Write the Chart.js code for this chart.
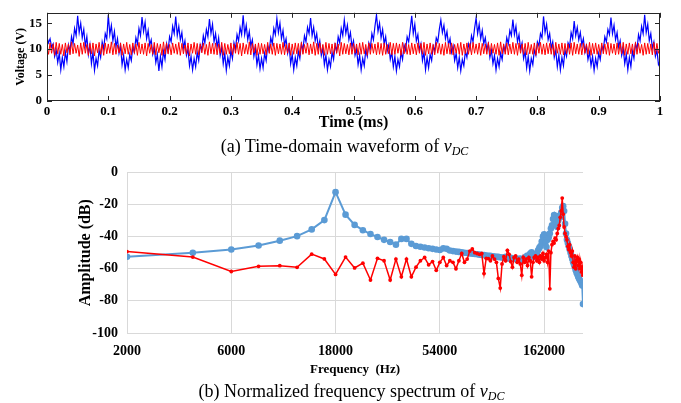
<!DOCTYPE html>
<html>
<head>
<meta charset="utf-8">
<script src="https://cdn.jsdelivr.net/npm/chart.js@4.4.0/dist/chart.umd.min.js"></script>
<style>
  body { margin: 0; background: #fff; width: 681px; height: 403px; position: relative; overflow: hidden; font-family: "Liberation Serif", "Times New Roman", serif; }
  #wrapTop { position: absolute; left: 0; top: 0; width: 681px; height: 135px; }
  #wrapBot { position: absolute; left: 0; top: 155px; width: 681px; height: 230px; }
  .cap { position: absolute; width: 681px; text-align: center; font-size: 18px; color: #000; z-index: 2; white-space: nowrap; }
  .cap sub { font-size: 12px; vertical-align: -3px; }
</style>
</head>
<body>
<div id="wrapTop"><canvas id="timeChart"></canvas></div>
<div class="cap" style="left:4px; top:136px;">(a) Time-domain waveform of <i>v</i><sub><i>DC</i></sub></div>
<div id="wrapBot"><canvas id="specChart"></canvas></div>
<div class="cap" style="left:11px; top:381px;">(b) Normalized frequency spectrum of <i>v</i><sub><i>DC</i></sub></div>

<script>
// ---- (a) time-domain waveform, sampled every 0.0025 ms ----
const sampleStep = 0.0025; // ms
const timeTicks = [0, 0.1, 0.2, 0.3, 0.4, 0.5, 0.6, 0.7, 0.8, 0.9, 1];
const voltTicks = [0, 5, 10, 15];

const blueVolt = [
  12.3, 11.2, 12.0, 10.4, 11.0, 8.6, 9.8, 7.4, 9.2, 6.0, 8.4, 6.6, 9.4, 7.6, 10.8, 9.6, 12.4, 11.0, 14.0, 12.6,
  16.4, 13.2, 15.0, 12.2, 13.8, 10.6, 12.4, 9.0, 10.8, 7.2, 9.4, 5.9, 8.2, 6.8, 9.8, 8.4, 11.4, 10.0, 13.0, 12.0,
  16.6, 12.8, 14.6, 11.6, 13.4, 10.4, 12.0, 9.2, 10.6, 7.0, 8.8, 6.0, 8.0, 6.4, 9.0, 7.8, 10.4, 9.4, 12.2, 11.0, 14.0, 12.6,
  16.2, 13.4, 15.2, 12.0, 13.6, 10.8, 11.8, 9.0, 10.2, 7.4, 9.0, 5.8, 8.6, 6.6, 9.6, 8.0, 11.0, 9.6, 12.4, 11.4, 14.4, 13.0,
  16.3, 12.6, 14.4, 11.8, 13.2, 10.2, 11.6, 8.8, 10.0, 6.8, 8.6, 6.0, 8.2, 6.6, 9.4, 7.8, 10.8, 9.8, 12.6, 11.2, 13.8, 12.4,
  15.8, 13.0, 14.8, 11.4, 13.0, 10.4, 12.2, 8.8, 10.4, 7.2, 9.2, 5.9, 8.4, 6.8, 9.8, 8.2, 11.2, 10.0, 12.8, 11.6, 14.2, 12.8,
  16.5, 12.8, 14.6, 11.8, 13.4, 10.6, 11.8, 8.6, 10.2, 7.0, 8.8, 6.2, 8.2, 6.4, 9.2, 7.8, 10.6, 9.6, 12.2, 11.0, 14.0, 12.8,
  15.9, 13.2, 15.0, 12.0, 13.6, 10.8, 12.0, 9.2, 10.6, 7.2, 9.0, 6.0, 8.4, 6.8, 9.6, 8.2, 11.0, 9.8, 12.6, 11.4, 14.2, 13.0,
  16.0, 12.6, 14.2, 11.6, 13.0, 10.2, 11.6, 8.8, 10.2, 7.0, 8.8, 6.0, 8.0, 6.6, 9.4, 8.0, 10.8, 9.6, 12.4, 11.2, 14.0, 12.6,
  15.6, 13.0, 14.6, 11.8, 13.2, 10.4, 11.6, 8.8, 10.0, 7.0, 8.8, 6.0, 8.2, 6.8, 9.8, 8.6, 11.2, 10.2, 13.0, 11.8, 14.4,
  16.6, 13.4, 15.0, 12.2, 13.8, 11.0, 12.4, 9.6, 10.8, 8.0, 9.4, 6.6, 8.6, 5.8, 8.0, 6.6, 9.4, 8.0, 10.8, 9.8, 12.4, 11.4, 13.8,
  16.4, 13.0, 14.8, 11.6, 12.8, 9.8, 11.0, 7.8, 9.4, 6.0, 8.4, 6.4, 9.0, 7.8, 10.6, 9.6, 12.2, 11.4, 13.8,
  15.6, 13.2, 14.6, 12.0, 13.4, 10.8, 12.0, 9.4, 10.6, 7.8, 9.2, 6.4, 8.4, 5.8, 8.0, 6.8, 9.6, 8.4, 11.0, 10.0, 12.6, 11.4, 14.0,
  16.0, 13.0, 14.8, 12.0, 13.6, 11.0, 12.2, 9.8, 11.0, 8.4, 9.8, 7.2, 8.8, 6.0, 8.2, 6.6, 9.2, 8.0, 10.6, 9.6, 12.2, 11.0, 13.6, 12.6,
  15.7, 12.8, 14.4, 11.4, 12.8, 10.0, 11.2, 8.2, 9.6, 6.4, 8.6, 5.8, 8.2, 7.0, 9.8, 8.8, 11.4, 10.6, 13.0, 12.2,
  16.3, 13.2, 14.8, 11.8, 13.0, 10.2, 11.4, 8.4, 9.8, 6.6, 8.8, 6.0, 8.4, 6.8, 9.8, 8.6, 11.2, 10.4, 13.2, 12.0,
  15.4, 12.6, 14.2, 11.8, 13.2, 10.8, 12.0, 9.4, 10.6, 8.0, 9.4, 6.8, 8.6, 5.9, 8.2, 6.6, 9.2, 8.0, 10.6, 9.8, 12.4, 11.4, 13.8, 12.8,
  16.1, 13.0, 14.6, 11.8, 13.2, 10.4, 11.6, 8.8, 10.2, 7.2, 9.0, 6.0, 8.4, 6.6, 9.6, 8.2, 11.0, 10.0, 12.8, 11.6, 14.4, 13.0,
  16.6, 13.2, 14.8, 11.6, 13.0, 10.2, 11.4, 8.6, 9.8, 7.0, 7.6
];

const redVolt = [
  10.6, 9.0, 11.2, 9.2, 11.0, 8.8, 11.3, 9.1, 11.1, 9.0, 10.9, 8.7, 11.2, 9.3, 11.0, 8.9, 11.4, 9.1, 11.1, 9.2,
  10.8, 8.6, 11.2, 9.0, 11.3, 9.2, 10.9, 8.8, 11.1, 9.1, 11.2, 8.7, 11.0, 9.3, 11.3, 9.0, 10.9, 8.8, 11.2, 9.1,
  11.0, 9.2, 11.4, 8.9, 11.1, 9.0, 10.8, 9.3, 11.2, 8.8, 11.0, 9.1, 11.3, 9.0, 10.9, 8.9, 11.2, 9.2, 11.0, 8.8,
  11.3, 9.1, 11.0, 9.0, 11.2, 8.7, 11.1, 9.2, 10.9, 9.0, 11.3, 8.9, 11.1, 9.3, 11.0, 8.8, 11.4, 9.0, 11.2, 9.1,
  10.9, 8.9, 11.2, 9.2, 11.0, 9.0, 11.3, 8.8, 11.1, 9.1, 10.8, 9.0, 11.2, 8.7, 11.0, 9.2, 11.3, 9.0, 11.1, 8.9,
  11.0, 9.3, 11.2, 9.0, 10.9, 8.8, 11.4, 9.1, 11.1, 9.0, 11.2, 8.9, 11.0, 9.2, 11.3, 8.8, 11.1, 9.0, 10.9, 9.1,
  11.2, 8.9, 11.0, 9.2, 11.3, 9.0, 11.1, 8.7, 11.2, 9.1, 10.9, 9.0, 11.4, 8.9, 11.1, 9.3, 11.0, 8.8, 11.2, 9.0,
  11.1, 9.1, 10.9, 8.9, 11.3, 9.2, 11.0, 9.0, 11.2, 8.8, 11.1, 9.1, 11.0, 9.0, 11.3, 8.9, 10.9, 9.2, 11.2, 8.8,
  11.0, 9.0, 11.2, 9.1, 11.1, 8.8, 11.3, 9.0, 10.9, 9.2, 11.2, 8.9, 11.0, 9.1, 11.4, 8.8, 11.1, 9.0, 11.2, 9.2,
  10.9, 8.8, 11.3, 9.0, 11.1, 9.1, 11.0, 8.9, 11.2, 9.2, 11.0, 8.7, 11.3, 9.0, 11.1, 9.1, 10.9, 8.9, 11.2, 9.0,
  11.1, 9.2, 11.0, 8.9, 11.2, 9.0, 11.3, 9.1, 10.9, 8.8, 11.2, 9.0, 11.1, 9.2, 11.0, 8.9, 11.3, 9.0, 11.1, 8.8,
  11.2, 9.0, 10.9, 9.1, 11.3, 8.9, 11.1, 9.0, 11.2, 9.2, 11.0, 8.8, 11.3, 9.1, 11.1, 9.0, 10.9, 8.9, 11.2, 9.1,
  11.0, 8.9, 11.2, 9.2, 11.1, 9.0, 11.3, 8.8, 11.0, 9.1, 11.2, 9.0, 10.9, 8.9, 11.3, 9.2, 11.1, 9.0, 11.0, 8.8,
  11.3, 9.1, 11.1, 9.0, 11.2, 8.9, 10.9, 9.2, 11.1, 9.0, 11.3, 8.8, 11.0, 9.1, 11.2, 9.0, 11.1, 8.9, 11.3, 9.2,
  11.0, 9.0, 11.2, 8.8, 11.1, 9.1, 11.0, 9.0, 11.3, 8.9, 11.1, 9.2, 10.9, 9.0, 11.2, 8.8, 11.4, 9.1, 11.0, 9.0,
  11.2, 8.9, 11.0, 9.1, 11.3, 9.0, 11.1, 8.8, 11.2, 9.2, 11.0, 9.0, 11.1, 8.9, 11.3, 9.1, 10.9, 9.0, 11.2, 8.8,
  11.1, 9.2, 11.3, 9.0, 11.0, 8.9, 11.2, 9.1, 11.1, 9.0, 10.9, 8.8, 11.3, 9.2, 11.0, 9.0, 11.2, 8.9, 11.1, 9.1,
  11.0, 9.0, 11.2, 8.8, 11.3, 9.1, 11.0, 9.0, 11.1, 8.9, 11.2, 9.2, 11.0, 9.0, 11.3, 8.8, 11.1, 9.1, 11.2, 9.0,
  10.9, 8.9, 11.2, 9.1, 11.0, 9.0, 11.3, 8.8, 11.1, 9.2, 11.0, 8.9, 11.2, 9.0, 11.1, 9.1, 11.3, 8.8, 11.0, 9.0,
  11.2, 9.1, 11.0, 8.9, 11.3, 9.0, 11.1, 9.2, 10.9, 8.8, 11.2, 9.0, 11.1, 9.1, 11.0, 8.9, 11.3, 9.0, 11.1, 9.2,
  10.4
];

// ---- (b) normalized spectrum, 2 kHz harmonics ----
const freqTicks = [2000, 6000, 18000, 54000, 162000];
const ampTicks = [0, -20, -40, -60, -80, -100];

const freqHz = [
  2000, 4000, 6000, 8000, 10000, 12000, 14000, 16000, 18000, 20000,
  22000, 24000, 26000, 28000, 30000, 32000, 34000, 36000, 38000, 40000,
  42000, 44000, 46000, 48000, 50000, 52000, 54000, 56000, 58000, 60000,
  62000, 64000, 66000, 68000, 70000, 72000, 74000, 76000, 78000, 80000,
  82000, 84000, 86000, 88000, 90000, 92000, 94000, 96000, 98000, 100000,
  102000, 104000, 106000, 108000, 110000, 112000, 114000, 116000, 118000, 120000,
  122000, 124000, 126000, 128000, 130000, 132000, 134000, 136000, 138000, 140000,
  142000, 144000, 146000, 148000, 150000, 152000, 154000, 156000, 158000, 160000,
  162000, 164000, 166000, 168000, 170000, 172000, 174000, 176000, 178000, 180000,
  182000, 184000, 186000, 188000, 190000, 192000, 194000, 196000, 198000, 200000,
  202000, 204000, 206000, 208000, 210000, 212000, 214000, 216000, 218000, 220000,
  222000, 224000, 226000, 228000, 230000, 232000, 234000, 236000, 238000, 240000,
  242000, 244000
];

const blueDb = [
  -52.5, -50, -48, -45.5, -42.5, -39.7, -35.5, -29.7, -12.3, -26.3,
  -32.7, -36, -38.4, -40.2, -42, -43.3, -45, -41.4, -41.4, -44.5,
  -45.8, -46.3, -46.8, -47.2, -47.6, -48, -48.3, -47.3, -47.6, -48.6,
  -49, -49.3, -49.5, -49.8, -50, -50.2, -50.4, -50.6, -50.8, -51,
  -51.2, -51.4, -51.5, -51.7, -51.9, -52, -52.2, -52.4, -52.5, -52.6,
  -52.8, -53, -53.2, -52.5, -53.4, -53.6, -53.1, -53.8, -54, -53.5,
  -54.2, -54, -53.6, -54.4, -54.1, -53.2, -52.4, -51.8, -53, -50.5,
  -49.8, -51, -52.6, -51.2, -50.6, -48.5, -47, -45.8, -43, -40,
  -38.5, -44, -46.5, -42, -40.5, -38, -35, -33, -29, -26.5,
  -29.5, -32, -34, -30, -27, -28, -25, -22, -21, -24,
  -32, -38, -42, -44, -46, -48, -50, -52, -54, -56,
  -57.5, -59, -61, -62.5, -63.5, -65, -66, -67, -68, -69,
  -70.5, -82
];

const redDb = [
  -49.3, -52.7, -61.7, -58.5, -58.1, -59.1, -50.9, -53.9, -63.5, -52.7,
  -59.5, -56.5, -67, -53.5, -55, -67, -54, -65, -54, -65,
  -59, -55, -53, -57.5, -55.5, -61, -56, -53, -58, -55,
  -56, -60, -55, -50.5, -56, -54, -49, -47.7, -50, -50.5,
  -51, -50.5, -63, -53.5, -53.7, -55, -52, -54, -56, -66,
  -72, -57, -52.5, -55, -48.5, -51, -55.5, -59, -53, -52,
  -56, -54, -57, -64, -53, -56, -54, -58, -53, -55,
  -65, -56, -53, -52, -55, -53, -56, -52, -54, -50.5,
  -55, -53, -51, -56, -49, -72.5, -50, -45, -43, -44,
  -41, -42, -38, -35, -33, -28, -24, -16, -26, -34,
  -38, -40, -42, -46, -48, -45, -50, -52, -49, -56,
  -59, -52, -60, -55, -53, -58, -54, -60, -56, -62,
  -59, -64
];

const serif = '"Liberation Serif", "Times New Roman", serif';

// MATLAB-like closed box with inward ticks on all four sides
const boxTicks = {
  id: 'boxTicks',
  afterDraw(chart) {
    const { ctx, chartArea: a, scales: { x, y } } = chart;
    ctx.save();
    ctx.strokeStyle = '#262626';
    ctx.lineWidth = 1;
    ctx.beginPath();
    x.ticks.forEach(t => {
      const px = Math.round(x.getPixelForValue(t.value)) + 0.5;
      ctx.moveTo(px, a.bottom); ctx.lineTo(px, a.bottom - 5);
      ctx.moveTo(px, a.top); ctx.lineTo(px, a.top + 5);
    });
    y.ticks.forEach(t => {
      const py = Math.round(y.getPixelForValue(t.value)) + 0.5;
      ctx.moveTo(a.left, py); ctx.lineTo(a.left + 5, py);
      ctx.moveTo(a.right, py); ctx.lineTo(a.right - 5, py);
    });
    ctx.stroke();
    ctx.strokeRect(Math.round(a.left) + 0.5, Math.round(a.top) + 0.5, Math.round(a.width) - 1, Math.round(a.height) - 1);
    ctx.restore();
  }
};

const bluePts = blueVolt.map((v, i) => ({ x: i * sampleStep, y: v }));
const redPts = redVolt.map((v, i) => ({ x: i * sampleStep, y: v }));

new Chart(document.getElementById('timeChart'), {
  type: 'line',
  data: {
    datasets: [
      { label: 'red', data: redPts, borderColor: '#ff0000', borderWidth: 1, pointRadius: 0, order: 0 },
      { label: 'blue', data: bluePts, borderColor: '#0000ff', borderWidth: 1.2, pointRadius: 0, order: 1 }
    ]
  },
  options: {
    responsive: true,
    maintainAspectRatio: false,
    animation: false,
    layout: { padding: { left: 10, right: 21, top: 7, bottom: 0 } },
    plugins: { legend: { display: false }, tooltip: { enabled: false } },
    scales: {
      x: {
        type: 'linear', min: 0, max: 1,
        grid: { display: false, drawTicks: false },
        border: { display: false },
        afterBuildTicks: s => { s.ticks = timeTicks.map(v => ({ value: v })); },
        afterFit: s => { s.height = 34; },
        ticks: { padding: 3, color: '#000', autoSkip: false, maxRotation: 0,
                 font: { family: serif, size: 13, weight: 'bold' }, callback: v => String(v) },
        title: { display: true, text: 'Time (ms)', color: '#000', padding: { top: 0, bottom: 3 },
                 font: { family: serif, size: 16, weight: 'bold' } }
      },
      y: {
        min: 0, max: 17,
        grid: { display: false, drawTicks: false },
        border: { display: false },
        afterBuildTicks: s => { s.ticks = voltTicks.map(v => ({ value: v })); },
        afterFit: s => { s.width = 37; },
        ticks: { padding: 5, color: '#000', font: { family: serif, size: 13, weight: 'bold' } },
        title: { display: true, text: 'Voltage (V)', color: '#000', padding: { top: 4, bottom: 0 },
                 font: { family: serif, size: 12, weight: 'bold' } }
      }
    }
  },
  plugins: [boxTicks]
});

new Chart(document.getElementById('specChart'), {
  type: 'line',
  data: {
    datasets: [
      { label: 'red', data: freqHz.map((f, i) => ({ x: f, y: redDb[i] })),
        borderColor: '#ff0000', backgroundColor: '#ff0000', borderWidth: 1.5,
        pointRadius: 1.9, pointBorderWidth: 0, order: 0 },
      { label: 'blue', data: freqHz.map((f, i) => ({ x: f, y: blueDb[i] })),
        borderColor: '#5b9bd5', backgroundColor: '#5b9bd5', borderWidth: 2,
        pointRadius: 3.3, pointBorderWidth: 0, order: 1 }
    ]
  },
  options: {
    responsive: true,
    maintainAspectRatio: false,
    animation: false,
    layout: { padding: { left: 72, right: 98, top: 13, bottom: 0 } },
    plugins: { legend: { display: false }, tooltip: { enabled: false } },
    scales: {
      x: {
        type: 'logarithmic', min: 2000, max: 244000,
        grid: { color: '#d9d9d9', lineWidth: 1, drawTicks: false },
        border: { display: false },
        afterBuildTicks: s => { s.ticks = freqTicks.map(v => ({ value: v })); },
        afterFit: s => { s.height = 52; },
        ticks: { padding: 10, color: '#000', autoSkip: false, maxRotation: 0,
                 font: { family: serif, size: 14, weight: 'bold' }, callback: v => String(v) },
        title: { display: true, text: 'Frequency  (Hz)', color: '#000', padding: { top: 0, bottom: 8 },
                 font: { family: serif, size: 13, weight: 'bold' } }
      },
      y: {
        min: -100, max: 0,
        grid: { color: '#d9d9d9', lineWidth: 1, drawTicks: false },
        border: { display: false },
        afterBuildTicks: s => { s.ticks = ampTicks.map(v => ({ value: v })); },
        afterFit: s => { s.width = 55; },
        ticks: { padding: 9, color: '#000', font: { family: serif, size: 14, weight: 'bold' } },
        title: { display: true, text: 'Amplitude (dB)', color: '#000', padding: { top: 4, bottom: 0 },
                 font: { family: serif, size: 16, weight: 'bold' } }
      }
    }
  }
});
</script>
</body>
</html>
